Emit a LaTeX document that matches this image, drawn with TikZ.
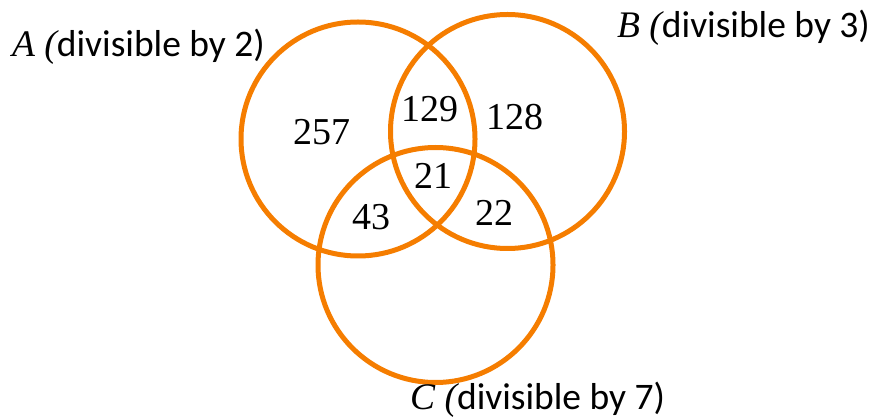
\documentclass[tikz,border=0pt]{standalone}
\usepackage{fontspec}
\setmainfont{Carlito}
\newfontfamily\numfont{Liberation Serif}
\definecolor{vennorange}{RGB}{245,125,0}
\begin{document}
\begin{tikzpicture}[x=1pt,y=-1pt,
  vcircle/.style={draw=vennorange,line width=5pt},
  num/.style={inner sep=0pt,anchor=base,font=\fontsize{38}{40}\selectfont\numfont},
  setlabel/.style={inner sep=0pt,anchor=base west,font=\fontsize{37.5}{40}\selectfont}]
\useasboundingbox (0,0) rectangle (877,419);
\node[vcircle,circle,minimum size=234pt,inner sep=0pt] (A) at (358,139) {};
\node[vcircle,circle,minimum size=234pt,inner sep=0pt] (B) at (507.5,131.5) {};
\node[vcircle,circle,minimum size=235pt,inner sep=0pt] (C) at (435.5,265) {};
\node[num] (n257) at (322,145) {257};
\node[num] (n129) at (430,122) {129};
\node[num] (n128) at (515,130) {128};
\node[num] (n21) at (433,189) {21};
\node[num] (n43) at (371,230) {43};
\node[num] (n22) at (494,226) {22};
\node[setlabel] (la) at (12,57) {{\numfont\itshape A (}divisible by 2)};
\node[setlabel] (lb) at (617,38) {{\numfont\itshape B (}divisible by 3)};
\node[setlabel] (lc) at (410,409.5) {{\numfont\itshape C (}divisible by 7)};
\end{tikzpicture}
\end{document}
